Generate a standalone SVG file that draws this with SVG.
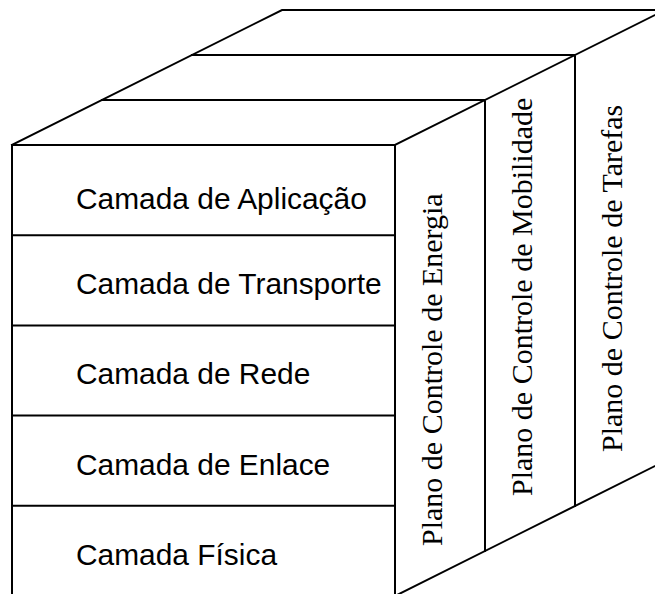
<svg xmlns="http://www.w3.org/2000/svg" width="655" height="594" viewBox="0 0 655 594">
<style>
.ln{stroke:#000;stroke-width:2;fill:none;stroke-linecap:square}
.layer{font-family:"Liberation Sans",Arial,sans-serif;font-size:29.9px;fill:#000}
.plane{font-family:"Liberation Serif","Times New Roman",serif;font-size:30px;fill:#000}
</style>
<rect width="655" height="594" fill="#fff"/>
<g id="cube">
<path class="ln" d="M12,145 L282,10 L665,10 M102,100 L485,100 M192,55 L575,55 M395,145 L665,10 M485,100 L485,551 M575,55 L575,506 M395,596 L665,461"/>
</g>
<g id="front">
<path class="ln" d="M12,596 L12,145 L395,145 L395,596"/>
</g>
<g id="layer-aplicacao">
<text class="layer" x="76" y="209">Camada de Aplicação</text>
</g>
<g id="layer-transporte">
<path class="ln" d="M12,235.2 L395,235.2"/>
<text class="layer" x="76" y="294">Camada de Transporte</text>
</g>
<g id="layer-rede">
<path class="ln" d="M12,325.4 L395,325.4"/>
<text class="layer" x="76" y="384">Camada de Rede</text>
</g>
<g id="layer-enlace">
<path class="ln" d="M12,415.6 L395,415.6"/>
<text class="layer" x="76" y="475">Camada de Enlace</text>
</g>
<g id="layer-fisica">
<path class="ln" d="M12,505.8 L395,505.8"/>
<text class="layer" x="76" y="565">Camada Física</text>
</g>
<g id="plane-energia">
<text class="plane" transform="translate(441.5,546) rotate(-90)">Plano de Controle de Energia</text>
</g>
<g id="plane-mobilidade">
<text class="plane" transform="translate(531.5,496) rotate(-90)">Plano de Controle de Mobilidade</text>
</g>
<g id="plane-tarefas">
<text class="plane" transform="translate(621.5,452) rotate(-90)">Plano de Controle de Tarefas</text>
</g>
<g id="connectors"></g>
</svg>
